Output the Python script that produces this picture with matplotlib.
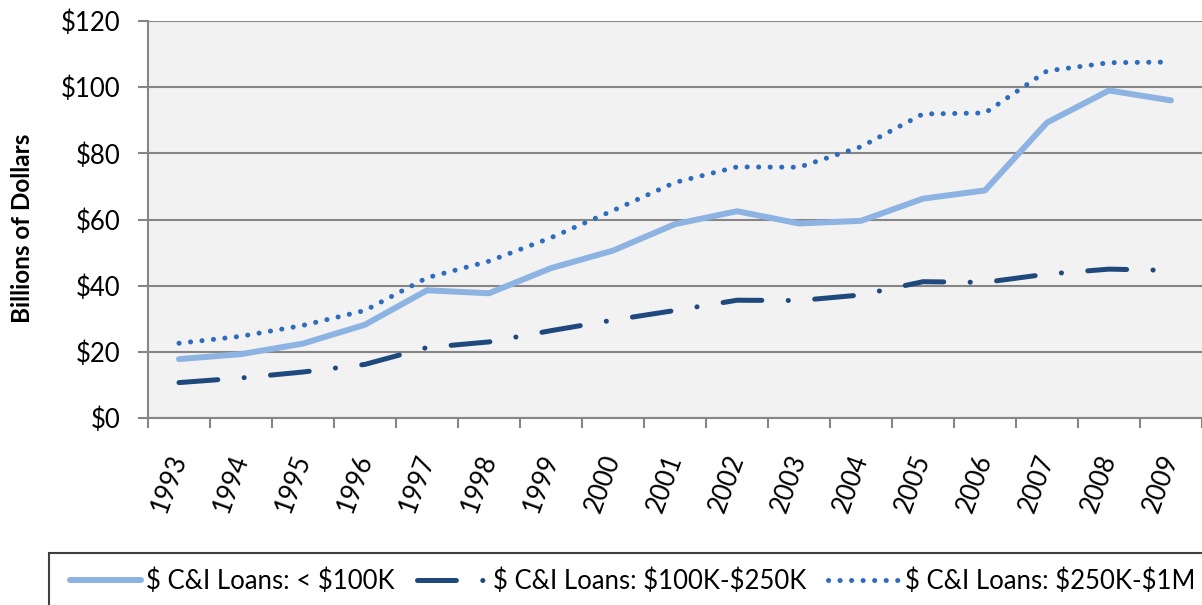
import matplotlib
matplotlib.use("Agg")
import matplotlib.pyplot as plt
from matplotlib.patches import Rectangle
import numpy as np

years = ["1993", "1994", "1995", "1996", "1997", "1998", "1999", "2000", "2001",
         "2002", "2003", "2004", "2005", "2006", "2007", "2008", "2009"]
loans_lt_100k = [17.8, 19.3, 22.5, 28.2, 38.6, 37.7, 45.3, 50.6, 58.6,
                 62.5, 58.8, 59.6, 66.3, 68.8, 89.3, 99.0, 96.0]
loans_100k_250k = [10.7, 12.1, 13.9, 16.2, 21.3, 23.0, 26.4, 29.6, 32.5,
                   35.6, 35.5, 37.2, 41.2, 41.0, 43.5, 45.0, 44.6]
loans_250k_1m = [22.6, 24.7, 28.0, 32.5, 42.4, 47.4, 54.5, 62.7, 71.2,
                 75.9, 75.8, 82.0, 91.9, 92.2, 104.9, 107.4, 107.6]
series_labels = ["$ C&I Loans: < $100K", "$ C&I Loans: $100K-$250K",
                 "$ C&I Loans: $250K-$1M"]
yticks = [0, 20, 40, 60, 80, 100, 120]

plt.rcParams['font.family'] = ['Lato', 'DejaVu Sans']
plt.rcParams['lines.scale_dashes'] = False
plt.rcParams['text.parse_math'] = False

W, H = 1202, 605
fig = plt.figure(figsize=(W / 100, H / 100), dpi=100)
ax = fig.add_axes([148 / W, 1 - 418 / H, (1202 - 148) / W, (418 - 21) / H])
ax.set_facecolor('#F2F2F2')

x = np.arange(len(years))
grid_c = '#868686'
fs = 18.5

l1, = ax.plot(x, loans_lt_100k, color='#8DB3E2', lw=4.3, solid_capstyle='round',
              solid_joinstyle='round', label=series_labels[0], zorder=3)
l2, = ax.plot(x, loans_100k_250k, color='#1F497D', lw=3.6,
              linestyle=(0, (28, 19, 0.1, 19)), dash_capstyle='round',
              label=series_labels[1], zorder=3)
l3, = ax.plot(x, loans_250k_1m, color='#2E6CBE', lw=3.6,
              linestyle=(0, (0.1, 8.2)), dash_capstyle='round',
              label=series_labels[2], zorder=3)

ax.set_xlim(-0.5, len(years) - 0.5)
ax.set_ylim(0, 120)
ax.set_yticks(yticks)
ax.set_yticklabels([f"${v}" for v in yticks])
ax.yaxis.grid(True, color=grid_c, lw=1.5)
ax.set_axisbelow(True)

for s in ['top', 'right']:
    ax.spines[s].set_visible(False)
for s in ['left', 'bottom']:
    ax.spines[s].set_color(grid_c)
    ax.spines[s].set_linewidth(1.5)

ax.set_xticks(x)
ax.set_xticklabels(years)
ax.set_xticks(np.arange(-0.5, len(years), 1.0), minor=True)
ax.tick_params(axis='x', which='major', length=0, pad=27, labelsize=fs)
ax.tick_params(axis='x', which='minor', length=7, width=1.5, color=grid_c)
ax.tick_params(axis='y', length=7, width=1.5, color=grid_c, pad=13, labelsize=fs)
plt.setp(ax.get_xticklabels(), rotation=70, ha='right', va='center',
         rotation_mode='anchor')

fig.text(23 / W, 1 - 228 / H, "Billions of Dollars", rotation=90, ha='center',
         va='center', fontsize=17.5, fontweight='bold')

# legend frame (extends beyond the figure edge like the reference)
fig.patches.append(Rectangle((49 / W, -0.05), (1300 - 49) / W, (1 - 553 / H) + 0.05,
                             transform=fig.transFigure, facecolor='white',
                             edgecolor='#404040', lw=1.5, zorder=1))
leg = fig.legend(handles=[l1, l2, l3], loc='center left',
                 bbox_to_anchor=(70 / W, 1 - 581 / H), ncol=3, fontsize=fs,
                 frameon=False, handlelength=2.75, handletextpad=0.22,
                 columnspacing=0.85, borderpad=0, borderaxespad=0)
leg.set_zorder(2)

fig.savefig("out.png", dpi=100, facecolor='white')
